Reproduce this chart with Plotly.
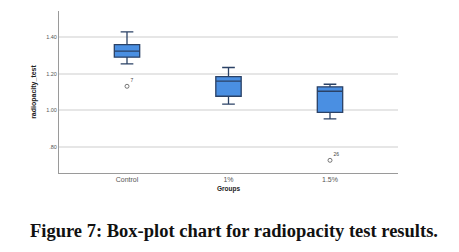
import plotly.graph_objects as go

groups = ["Control", "1%", "1.5%"]
q1 = [1.289, 1.077, 0.989]
median = [1.322, 1.159, 1.104]
q3 = [1.357, 1.183, 1.128]
lower_whisker = [1.253, 1.034, 0.954]
upper_whisker = [1.427, 1.233, 1.142]

outlier_groups = ["Control", "1.5%"]
outlier_values = [1.131, 0.729]
outlier_ids = ["7", "26"]

tick_values = [0.80, 1.00, 1.20, 1.40]
tick_labels = [".80", "1.00", "1.20", "1.40"]

fig = go.Figure()
fig.add_trace(go.Box(
    x=groups, q1=q1, median=median, q3=q3,
    lowerfence=lower_whisker, upperfence=upper_whisker,
    fillcolor="#4a8fe2", line=dict(color="#2b4266", width=1.3),
    width=0.25, whiskerwidth=0.5, boxpoints=False, showlegend=False,
))
fig.add_trace(go.Scatter(
    x=outlier_groups, y=outlier_values, mode="markers+text",
    marker=dict(symbol="circle-open", size=4, color="#555555", line=dict(width=0.8)),
    text=outlier_ids, textposition="top right",
    textfont=dict(size=5, color="#444444", family="Liberation Sans"),
    showlegend=False, cliponaxis=False,
))

fig.update_layout(
    width=459, height=252,
    margin=dict(l=51, r=69, t=3, b=87),
    paper_bgcolor="white", plot_bgcolor="white",
    font=dict(family="Liberation Sans", color="#444444"),
    xaxis=dict(
        range=[-0.67, 2.67], showgrid=False,
        showline=True, linecolor="#9a9a9a", linewidth=1,
        ticks="", tickfont=dict(size=7, color="#555555"),
        title=dict(text="<b>Groups</b>", font=dict(size=6.5, color="#222222"), standoff=4),
    ),
    yaxis=dict(
        range=[0.66, 1.54], tickvals=tick_values, ticktext=tick_labels,
        showgrid=True, gridcolor="#e6e6e6", gridwidth=1.8,
        showline=True, linecolor="#9a9a9a", linewidth=1,
        ticks="", tickfont=dict(size=5.5, color="#555555"), zeroline=False,
        title=dict(text="<b>radiopacity_test</b>", font=dict(size=7, color="#222222"), standoff=8),
    ),
    annotations=[dict(
        text="<b>Figure 7: Box-plot chart for radiopacity test results.</b>",
        xref="paper", yref="paper", x=(226 - 51) / 339, y=-0.36,
        xanchor="center", yanchor="middle", showarrow=False,
        font=dict(family="Liberation Serif", size=18.5, color="#111111"),
    )],
)

fig.write_html("out.html")
